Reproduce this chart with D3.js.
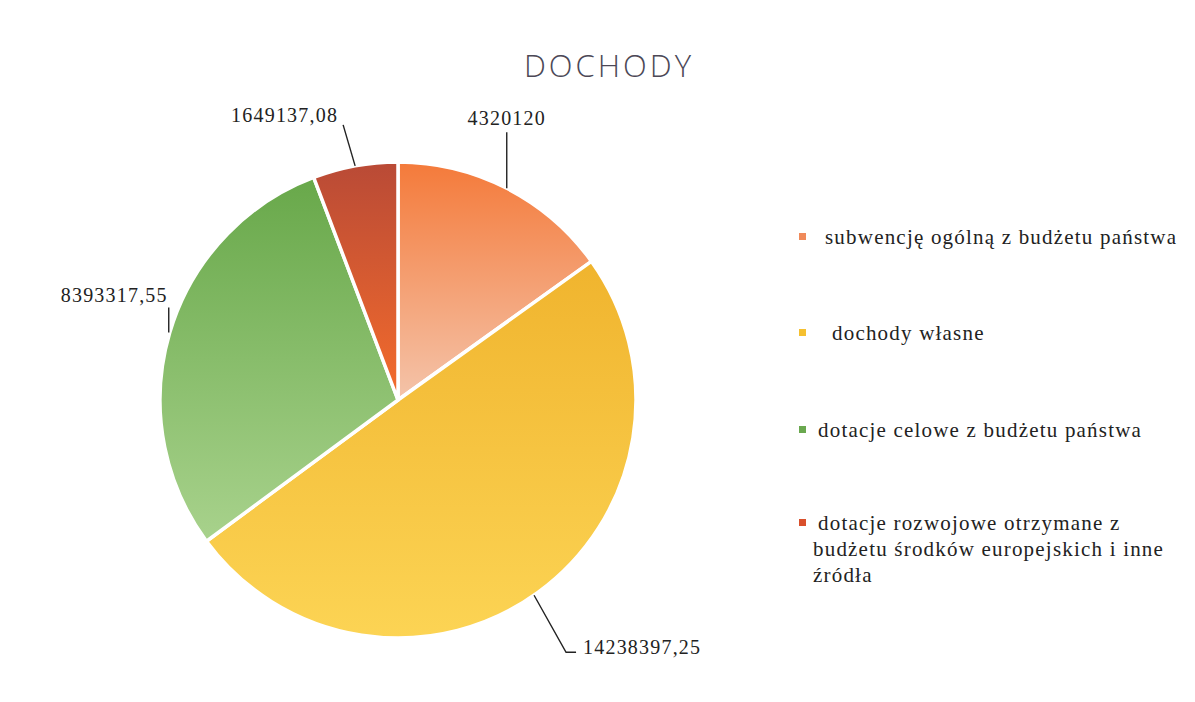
<!DOCTYPE html>
<html><head><meta charset="utf-8">
<script src="https://cdn.jsdelivr.net/npm/d3@7"></script>
<style>body{margin:0;background:#fff}svg{display:block}
.serif{font-family:"Liberation Serif","Times New Roman",Times,Tinos,"DejaVu Serif","Noto Serif",serif}</style>
</head><body>
<svg id="chart"></svg>
<script>
const W=1195,H=702;
const categories=['subwencję ogólną z budżetu państwa','dochody własne','dotacje celowe z budżetu państwa','dotacje rozwojowe otrzymane z budżetu środków europejskich i inne źródła'];
const values=[4320120,14238397.25,8393317.55,1649137.08];
const labels=['4320120','14238397,25','8393317,55','1649137,08'];
const gradTop=['#f47a3a','#f0b42e','#68a84a','#b94a36'];
const gradBot=['#f4c4aa','#fcd454','#a8d28c','#f46c2c'];
const swatch=['#f08a5a','#f5c030','#6aa84f','#d9502c'];
const legendLines=[['subwencję ogólną z budżetu państwa'],['dochody własne'],['dotacje celowe z budżetu państwa'],['dotacje rozwojowe otrzymane z','budżetu środków europejskich i inne','źródła']];

const svg=d3.select('#chart').attr('width',W).attr('height',H).attr('viewBox',`0 0 ${W} ${H}`);
const cx=398, cy=400, R=238;

svg.append('text').attr('x',609).attr('y',77).attr('text-anchor','middle')
  .style('font-family','"Open Sans",sans-serif').style('font-size','31px').style('font-weight','300').style('letter-spacing','3px')
  .attr('fill','#4c4856').text('DOCHODY');

const defs=svg.append('defs');
const pie=d3.pie().sort(null).value(d=>d)(values);
const arc=d3.arc().innerRadius(0).outerRadius(R);
const g=svg.append('g').attr('transform',`translate(${cx},${cy})`);

pie.forEach((p,i)=>{
  const gr=defs.append('linearGradient').attr('id','gr'+i).attr('x1',0).attr('y1',0).attr('x2',0).attr('y2',1);
  gr.append('stop').attr('offset','0%').attr('stop-color',gradTop[i]);
  gr.append('stop').attr('offset','100%').attr('stop-color',gradBot[i]);
});
g.selectAll('path').data(pie).join('path').attr('d',arc)
  .attr('fill',(d,i)=>`url(#gr${i})`).attr('stroke','#fff').attr('stroke-width',3.5).attr('stroke-linejoin','round');

// leader lines + value labels
const lineG=svg.append('g').attr('stroke','#222').attr('stroke-width',1.4).attr('fill','none');
const txtG=svg.append('g').attr('class','serif').attr('font-size',20).attr('letter-spacing',1.2).attr('fill','#222');
function pt(a,r){return [cx+r*Math.sin(a),cy-r*Math.cos(a)];}
pie.forEach((p,i)=>{
  const a=(p.startAngle+p.endAngle)/2;
  let pts,tx,anchor;
  if(i===0){const s=pt(a,R);pts=[s,[s[0],s[1]-56]];tx=[s[0],s[1]-63];anchor='middle';}
  if(i===1){const s=pt(a+0.02,R);pts=[s,[s[0]+32,s[1]+57],[s[0]+42,s[1]+57]];tx=[s[0]+49,s[1]+59];anchor='start';}
  if(i===2){const s=pt(a,R+1);pts=[s,[s[0],s[1]-25]];tx=[s[0]-1,s[1]-30];anchor='end';}
  if(i===3){const s=pt(a,R);pts=[s,[s[0]-12,s[1]-41]];tx=[s[0]-17,s[1]-44];anchor='end';}
  lineG.append('path').attr('d',d3.line()(pts));
  txtG.append('text').attr('x',tx[0]).attr('y',tx[1]).attr('text-anchor',anchor).text(labels[i]);
});

const ly=[244,340,437,530];
const lg=svg.append('g').attr('class','serif').attr('font-size',21).attr('letter-spacing',1.2).attr('fill','#222');
categories.forEach((c,i)=>{
  lg.append('rect').attr('x',799).attr('y',ly[i]-11).attr('width',7).attr('height',7).attr('fill',swatch[i]);
  legendLines[i].forEach((t,k)=>{
    lg.append('text').attr('x',k===0?(i===1?832:(i===0?825:818)):813).attr('y',ly[i]+k*26).text(t);
  });
});
</script>
</body></html>
